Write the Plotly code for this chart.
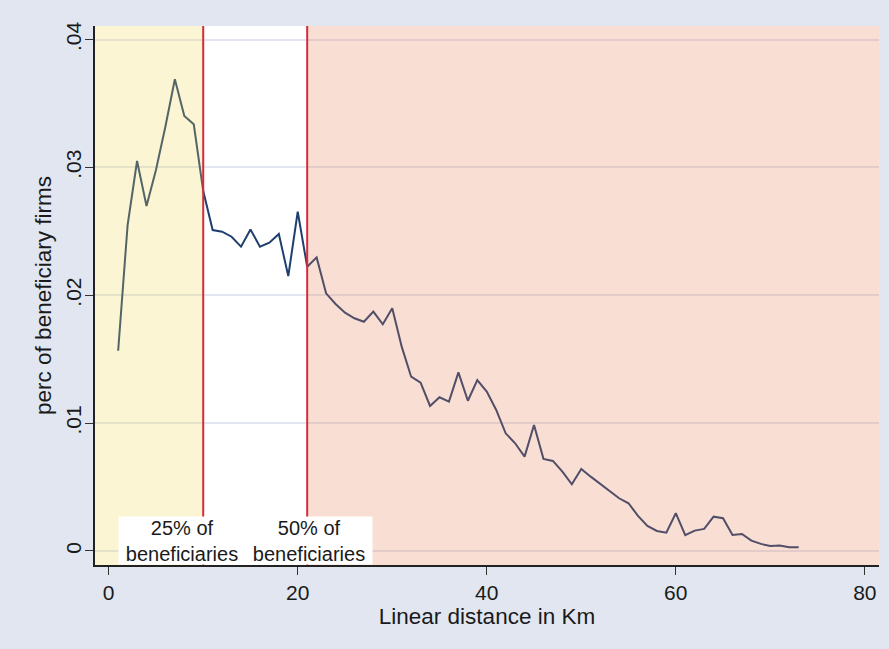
import plotly.graph_objects as go

# Share of beneficiary firms by linear distance (km)
distance_km = list(range(1, 74))
perc_firms = [
    0.01566, 0.02549, 0.03050, 0.02698, 0.02979, 0.03320, 0.03689, 0.03402, 0.03337, 0.02815,
    0.02510, 0.02497, 0.02458, 0.02380, 0.02515, 0.02380, 0.02411, 0.02479, 0.02150, 0.02653,
    0.02223, 0.02296, 0.02015, 0.01932, 0.01864, 0.01820, 0.01793, 0.01872, 0.01773, 0.01898,
    0.01598, 0.01363, 0.01316, 0.01134, 0.01202, 0.01168, 0.01397, 0.01175, 0.01337, 0.01246,
    0.01103, 0.00920, 0.00842, 0.00738, 0.00985, 0.00720, 0.00704, 0.00620, 0.00521, 0.00641,
    0.00581, 0.00524, 0.00464, 0.00412, 0.00373, 0.00274, 0.00196, 0.00156, 0.00143, 0.00295,
    0.00123, 0.00159, 0.00172, 0.00268, 0.00256, 0.00125, 0.00133, 0.00081, 0.00055, 0.00039,
    0.00042, 0.00029, 0.00029,
]

# Distance thresholds for cumulative shares of beneficiaries
quartile_km = [10, 21]
quartile_labels = ["25% of<br>beneficiaries", "50% of<br>beneficiaries"]
label_x = [7.8, 21.2]

x_ticks = [0, 20, 40, 60, 80]
y_ticks = [0, 0.01, 0.02, 0.03, 0.04]
y_tick_text = ["0", ".01", ".02", ".03", ".04"]

x_range = [-1.45, 81.5]
y_range = [-0.0011, 0.04106]

font_family = "Liberation Sans, Arial, sans-serif"

fig = go.Figure()
fig.add_trace(go.Scatter(
    x=distance_km, y=perc_firms, mode="lines",
    line=dict(color="#1f3f6f", width=2),
    showlegend=False, hoverinfo="x+y",
))

# Shaded distance bands drawn over the series
fig.add_shape(type="rect", xref="x", yref="y domain",
              x0=x_range[0], x1=quartile_km[0], y0=0, y1=1,
              fillcolor="rgb(239,215,79)", opacity=0.25, line_width=0, layer="above")
fig.add_shape(type="rect", xref="x", yref="y domain",
              x0=quartile_km[1], x1=x_range[1], y0=0, y1=1,
              fillcolor="rgb(231,123,83)", opacity=0.25, line_width=0, layer="above")

for q in quartile_km:
    fig.add_shape(type="line", xref="x", yref="y domain",
                  x0=q, x1=q, y0=0, y1=1,
                  line=dict(color="#d42a3c", width=2), layer="above")

for lx, txt in zip(label_x, quartile_labels):
    fig.add_annotation(x=lx, xref="x", y=0, yref="y domain",
                       yanchor="bottom", xanchor="center",
                       text=txt, showarrow=False,
                       bgcolor="white", borderpad=0, width=126, height=47,
                       font=dict(family=font_family, size=20, color="#1a1a1a"))

fig.update_layout(
    width=889, height=649,
    margin=dict(l=95, r=10, t=26, b=84),
    paper_bgcolor="#e1e6f0",
    plot_bgcolor="white",
    font=dict(family=font_family, size=21, color="#1a1a1a"),
    showlegend=False,
)
fig.update_xaxes(
    range=x_range, tickvals=x_ticks, ticks="outside", ticklen=8,
    tickcolor="#333", showline=True, linecolor="#222", linewidth=1.5,
    showgrid=False, zeroline=False, tickfont=dict(size=21),
    title=dict(text="Linear distance in Km", standoff=4,
               font=dict(size=22.5, family=font_family)),
)
fig.update_yaxes(
    range=y_range, tickvals=y_ticks, ticktext=y_tick_text, tickangle=-90,
    ticks="outside", ticklen=8, tickcolor="#333", ticklabelstandoff=-4,
    showline=True, linecolor="#222", linewidth=1.5, tickfont=dict(size=21),
    showgrid=True, gridcolor="#e1e6f0", gridwidth=2, zeroline=False,
    title=dict(text="perc of beneficiary firms", standoff=4,
               font=dict(size=22.5, family=font_family)),
)

fig.write_html("out.html")
